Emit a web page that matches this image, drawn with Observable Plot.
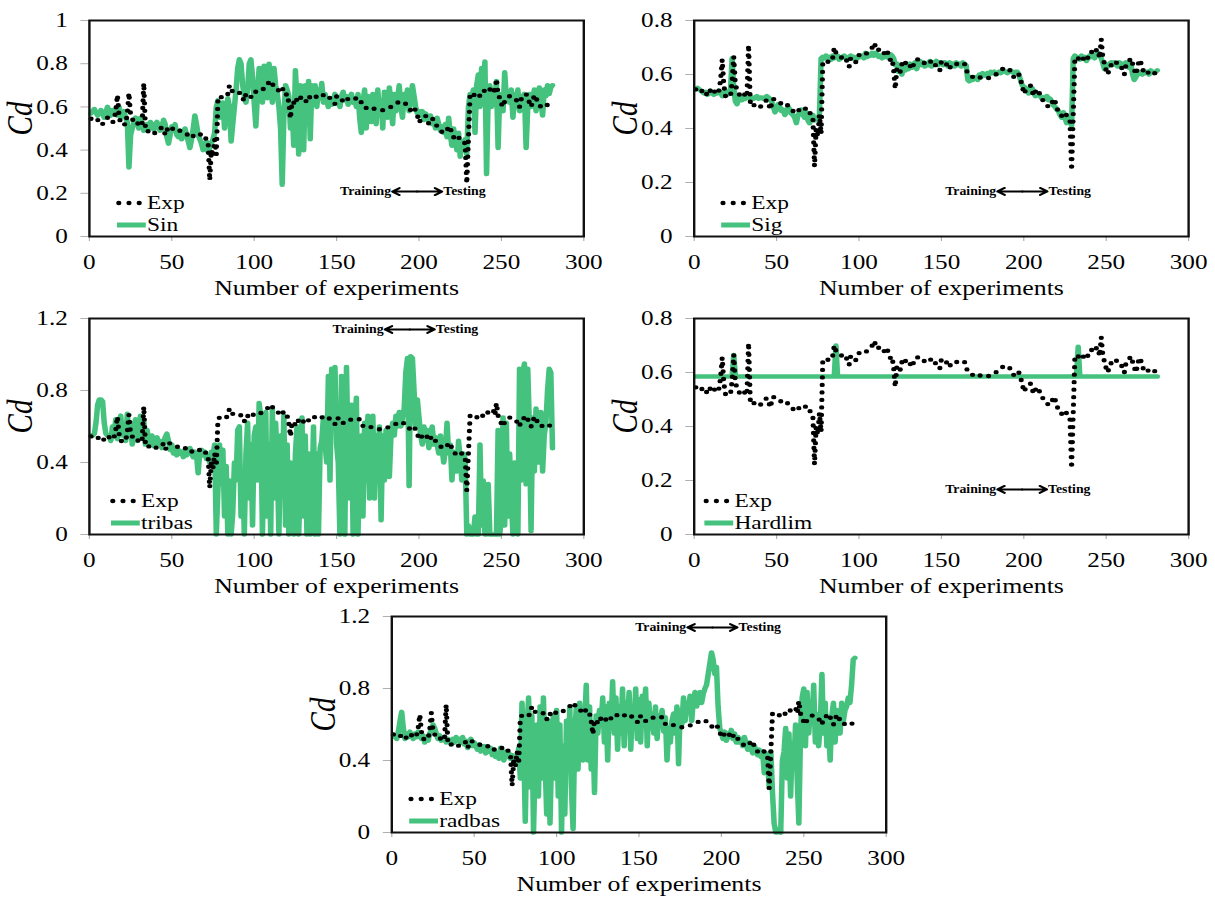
<!DOCTYPE html>
<html><head><meta charset="utf-8">
<script src="https://cdn.jsdelivr.net/npm/d3@7"></script>
<script src="https://cdn.jsdelivr.net/npm/@observablehq/plot@0.6"></script>
<style>
html,body{margin:0;padding:0;background:#fff;overflow:hidden;}
#wrap{position:relative;width:1012.5px;height:897px;transform:scaleX(1.2);transform-origin:0 0;}
.panel{position:absolute;width:500px;}
.panel svg{max-width:none;}
</style></head><body><div id="wrap"></div>
<script>
// ---- data (Cd per experiment 1..281) ----
const expCd = [
0.545,0.54,0.545,0.537,0.54,0.53,0.535,0.521,0.53,0.545,
0.55,0.54,0.53,0.527,0.54,0.58,0.655,0.56,0.52,0.518,
0.52,0.518,0.57,0.665,0.56,0.545,0.53,0.52,0.525,0.52,
0.53,0.52,0.71,0.50,0.484,0.49,0.478,0.48,0.478,0.48,
0.485,0.49,0.50,0.505,0.50,0.47,0.49,0.51,0.505,0.50,
0.497,0.497,0.49,0.485,0.49,0.488,0.485,0.48,0.476,0.465,
0.456,0.46,0.465,0.471,0.47,0.465,0.47,0.477,0.47,0.46,
0.45,0.443,0.26,0.40,0.37,0.45,0.38,0.64,0.65,0.645,
0.648,0.644,0.65,0.66,0.70,0.68,0.67,0.669,0.665,0.66,
0.665,0.662,0.64,0.628,0.662,0.66,0.65,0.646,0.66,0.672,
0.67,0.668,0.669,0.675,0.681,0.685,0.692,0.70,0.717,0.705,
0.709,0.69,0.686,0.681,0.675,0.692,0.688,0.67,0.654,0.66,
0.62,0.546,0.626,0.62,0.61,0.638,0.63,0.645,0.635,0.626,
0.632,0.62,0.635,0.65,0.657,0.655,0.65,0.645,0.64,0.645,
0.65,0.655,0.65,0.645,0.65,0.64,0.626,0.62,0.614,0.648,
0.645,0.648,0.64,0.62,0.625,0.63,0.638,0.636,0.64,0.636,
0.637,0.64,0.641,0.64,0.62,0.603,0.60,0.595,0.591,0.594,
0.597,0.595,0.59,0.588,0.585,0.585,0.586,0.585,0.588,0.59,
0.595,0.598,0.60,0.606,0.61,0.615,0.62,0.622,0.626,0.62,
0.618,0.614,0.60,0.59,0.585,0.59,0.60,0.58,0.562,0.528,
0.54,0.546,0.55,0.559,0.54,0.521,0.535,0.546,0.54,0.52,
0.511,0.50,0.49,0.484,0.482,0.48,0.49,0.511,0.50,0.48,
0.46,0.45,0.447,0.459,0.45,0.45,0.44,0.43,0.245,0.45,
0.66,0.665,0.66,0.65,0.65,0.66,0.65,0.65,0.665,0.68,
0.685,0.675,0.68,0.69,0.693,0.66,0.73,0.66,0.64,0.615,
0.60,0.625,0.635,0.645,0.65,0.645,0.64,0.638,0.635,0.61,
0.60,0.635,0.64,0.65,0.66,0.64,0.62,0.60,0.625,0.655,
0.645,0.62,0.61,0.60,0.605,0.61,0.605,0.61,0.605,0.605,
0.60];

const sinCd = [
0.57,0.58,0.59,0.575,0.56,0.57,0.585,0.57,0.55,0.575,
0.60,0.58,0.56,0.585,0.57,0.59,0.56,0.60,0.55,0.57,
0.58,0.55,0.53,0.32,0.47,0.50,0.53,0.55,0.53,0.50,
0.55,0.52,0.49,0.51,0.52,0.50,0.53,0.51,0.495,0.52,
0.53,0.50,0.49,0.51,0.54,0.52,0.46,0.43,0.47,0.51,
0.49,0.52,0.47,0.46,0.49,0.45,0.48,0.50,0.47,0.44,
0.41,0.45,0.50,0.56,0.52,0.47,0.45,0.43,0.40,0.42,
0.44,0.39,0.41,0.43,0.45,0.48,0.60,0.63,0.55,0.58,
0.62,0.50,0.56,0.64,0.60,0.44,0.52,0.60,0.68,0.78,
0.82,0.80,0.70,0.65,0.62,0.68,0.80,0.82,0.74,0.62,
0.51,0.66,0.78,0.70,0.62,0.79,0.68,0.64,0.80,0.72,
0.62,0.78,0.70,0.66,0.60,0.50,0.24,0.55,0.70,0.68,
0.65,0.50,0.60,0.42,0.77,0.62,0.38,0.70,0.65,0.40,
0.70,0.55,0.72,0.45,0.70,0.62,0.70,0.60,0.68,0.64,
0.71,0.62,0.66,0.63,0.60,0.64,0.61,0.63,0.66,0.62,
0.64,0.60,0.65,0.67,0.63,0.65,0.61,0.64,0.66,0.62,
0.64,0.60,0.66,0.55,0.48,0.62,0.68,0.50,0.65,0.58,
0.53,0.66,0.60,0.52,0.68,0.57,0.63,0.50,0.67,0.60,
0.55,0.69,0.62,0.52,0.66,0.58,0.64,0.70,0.60,0.55,
0.66,0.62,0.68,0.58,0.63,0.70,0.65,0.60,0.57,0.58,
0.56,0.58,0.54,0.57,0.55,0.53,0.56,0.52,0.54,0.50,
0.55,0.52,0.49,0.51,0.48,0.52,0.46,0.55,0.47,0.42,
0.50,0.45,0.40,0.48,0.37,0.44,0.41,0.45,0.38,0.60,
0.66,0.64,0.68,0.48,0.70,0.75,0.60,0.78,0.70,0.81,
0.29,0.65,0.70,0.60,0.68,0.62,0.72,0.41,0.66,0.63,
0.58,0.76,0.64,0.66,0.62,0.68,0.55,0.66,0.60,0.68,
0.58,0.65,0.62,0.66,0.41,0.60,0.66,0.60,0.64,0.68,
0.58,0.66,0.69,0.62,0.56,0.68,0.65,0.70,0.66,0.69,
0.70];

const sigCd = [
0.545,0.55,0.545,0.54,0.535,0.53,0.535,0.525,0.53,0.54,
0.53,0.525,0.535,0.53,0.54,0.535,0.52,0.53,0.54,0.525,
0.53,0.54,0.66,0.55,0.50,0.49,0.51,0.52,0.505,0.515,
0.51,0.52,0.515,0.51,0.515,0.51,0.515,0.52,0.51,0.515,
0.515,0.51,0.515,0.52,0.515,0.51,0.50,0.48,0.46,0.47,
0.49,0.48,0.465,0.47,0.45,0.46,0.48,0.47,0.455,0.45,
0.44,0.42,0.45,0.46,0.47,0.45,0.44,0.46,0.43,0.42,
0.44,0.45,0.43,0.435,0.44,0.45,0.66,0.665,0.66,0.67,
0.66,0.665,0.655,0.67,0.66,0.665,0.67,0.655,0.66,0.665,
0.67,0.66,0.655,0.665,0.67,0.66,0.665,0.655,0.66,0.67,
0.665,0.67,0.66,0.68,0.665,0.675,0.67,0.68,0.67,0.68,
0.675,0.665,0.67,0.66,0.675,0.665,0.67,0.66,0.675,0.67,
0.66,0.635,0.64,0.61,0.625,0.60,0.63,0.615,0.635,0.62,
0.64,0.625,0.63,0.645,0.62,0.64,0.65,0.635,0.645,0.63,
0.64,0.635,0.65,0.63,0.645,0.64,0.65,0.635,0.645,0.64,
0.635,0.645,0.64,0.63,0.645,0.635,0.64,0.63,0.645,0.635,
0.64,0.63,0.645,0.64,0.635,0.58,0.575,0.59,0.58,0.585,
0.59,0.58,0.60,0.59,0.605,0.60,0.595,0.605,0.60,0.61,
0.605,0.61,0.60,0.605,0.61,0.605,0.61,0.615,0.61,0.605,
0.61,0.615,0.61,0.605,0.61,0.61,0.60,0.58,0.56,0.555,
0.55,0.545,0.53,0.54,0.55,0.535,0.52,0.53,0.525,0.52,
0.51,0.515,0.51,0.52,0.505,0.51,0.50,0.485,0.48,0.47,
0.465,0.45,0.44,0.46,0.44,0.42,0.44,0.43,0.41,0.66,
0.67,0.665,0.66,0.655,0.67,0.66,0.665,0.65,0.66,0.67,
0.665,0.67,0.66,0.675,0.68,0.67,0.66,0.64,0.62,0.635,
0.63,0.64,0.645,0.635,0.645,0.64,0.63,0.645,0.64,0.63,
0.64,0.645,0.63,0.625,0.64,0.60,0.58,0.59,0.60,0.61,
0.605,0.60,0.61,0.605,0.61,0.60,0.615,0.61,0.605,0.61,
0.615];

const tribasCd = [
0.55,0.55,0.56,0.62,0.72,0.75,0.75,0.74,0.62,0.56,
0.55,0.55,0.52,0.60,0.55,0.64,0.53,0.62,0.66,0.55,
0.60,0.52,0.67,0.55,0.62,0.50,0.58,0.64,0.52,0.60,
0.66,0.54,0.63,0.50,0.58,0.53,0.50,0.55,0.49,0.52,
0.54,0.50,0.52,0.48,0.51,0.54,0.56,0.52,0.47,0.50,
0.45,0.48,0.44,0.47,0.45,0.46,0.43,0.47,0.44,0.46,
0.48,0.45,0.43,0.46,0.44,0.34,0.46,0.47,0.44,0.46,
0.42,0.44,0.40,0.46,0.44,0.50,0.00,0.25,0.50,0.28,
0.47,0.10,0.38,0.00,0.30,0.00,0.12,0.40,0.30,0.58,
0.60,0.10,0.35,0.00,0.45,0.62,0.20,0.50,0.05,0.55,
0.60,0.30,0.73,0.65,0.00,0.45,0.68,0.10,0.50,0.00,
0.70,0.20,0.62,0.40,0.00,0.55,0.30,0.66,0.05,0.50,
0.00,0.40,0.20,0.00,0.45,0.60,0.00,0.30,0.65,0.10,
0.55,0.00,0.45,0.00,0.20,0.60,0.00,0.45,0.00,0.48,
0.52,0.65,0.50,0.40,0.88,0.30,0.92,0.65,0.93,0.50,
0.40,0.00,0.88,0.60,0.00,0.93,0.45,0.20,0.72,0.00,
0.60,0.76,0.00,0.50,0.55,0.10,0.62,0.30,0.66,0.20,
0.45,0.66,0.20,0.55,0.40,0.60,0.08,0.55,0.30,0.58,
0.50,0.32,0.55,0.62,0.55,0.66,0.60,0.68,0.60,0.65,
0.70,0.90,0.98,0.27,0.99,0.98,0.80,0.60,0.75,0.65,
0.55,0.50,0.60,0.52,0.58,0.48,0.55,0.60,0.50,0.54,
0.50,0.45,0.55,0.48,0.40,0.47,0.62,0.45,0.50,0.30,
0.46,0.44,0.35,0.52,0.42,0.30,0.45,0.42,0.00,0.05,
0.00,0.00,0.00,0.10,0.00,0.00,0.50,0.05,0.30,0.00,
0.00,0.28,0.00,0.00,0.00,0.00,0.00,0.58,0.00,0.10,
0.65,0.05,0.62,0.10,0.45,0.20,0.00,0.40,0.05,0.00,
0.92,0.30,0.90,0.95,0.28,0.92,0.60,0.02,0.65,0.35,
0.70,0.40,0.60,0.68,0.35,0.55,0.62,0.80,0.92,0.90,
0.48];

const radbasCd = [
0.54,0.53,0.52,0.56,0.62,0.67,0.58,0.52,0.55,0.53,
0.56,0.54,0.52,0.55,0.53,0.56,0.55,0.52,0.54,0.50,
0.53,0.51,0.55,0.57,0.60,0.58,0.55,0.52,0.54,0.51,
0.52,0.53,0.50,0.52,0.51,0.49,0.52,0.50,0.53,0.51,
0.52,0.50,0.53,0.49,0.51,0.47,0.50,0.52,0.48,0.50,
0.48,0.46,0.49,0.45,0.47,0.48,0.44,0.46,0.45,0.47,
0.43,0.46,0.42,0.44,0.41,0.47,0.43,0.40,0.45,0.42,
0.44,0.41,0.43,0.40,0.42,0.38,0.47,0.30,0.72,0.50,
0.06,0.55,0.75,0.25,0.65,0.00,0.40,0.60,0.20,0.70,
0.30,0.75,0.40,0.10,0.62,0.05,0.45,0.65,0.30,0.68,
0.20,0.60,0.00,0.48,0.10,0.62,0.35,0.70,0.25,0.02,
0.55,0.70,0.35,0.72,0.45,0.40,0.60,0.82,0.40,0.70,
0.35,0.58,0.22,0.65,0.55,0.68,0.60,0.75,0.50,0.70,
0.40,0.72,0.58,0.84,0.55,0.75,0.46,0.70,0.55,0.80,
0.48,0.72,0.62,0.78,0.46,0.70,0.60,0.80,0.52,0.74,
0.50,0.76,0.60,0.80,0.48,0.72,0.58,0.66,0.55,0.70,
0.52,0.65,0.60,0.68,0.56,0.64,0.40,0.58,0.50,0.62,
0.66,0.55,0.70,0.38,0.68,0.60,0.75,0.62,0.72,0.68,
0.76,0.62,0.74,0.78,0.70,0.76,0.78,0.72,0.77,0.80,
0.82,0.88,0.94,1.00,0.96,0.88,0.92,0.70,0.58,0.55,
0.52,0.56,0.51,0.55,0.53,0.57,0.52,0.55,0.50,0.53,
0.50,0.52,0.48,0.53,0.49,0.46,0.50,0.47,0.44,0.48,
0.46,0.43,0.46,0.42,0.45,0.33,0.44,0.40,0.25,0.45,
0.22,0.05,0.00,0.00,0.02,0.00,0.40,0.45,0.58,0.30,
0.55,0.20,0.50,0.38,0.60,0.30,0.05,0.55,0.75,0.80,
0.48,0.78,0.55,0.70,0.62,0.82,0.50,0.66,0.48,0.60,
0.88,0.55,0.72,0.48,0.58,0.40,0.65,0.72,0.50,0.68,
0.60,0.55,0.72,0.62,0.68,0.70,0.75,0.72,0.82,0.96,
0.97];

// Hardlim: constant output with three single-experiment spikes
const hardlimN  = [1, 23, 24, 25, 85, 86, 87, 232, 233, 234, 281];
const hardlimCd = [0.585, 0.585, 0.665, 0.585, 0.585, 0.70, 0.585, 0.585, 0.695, 0.585, 0.585];

const xTicks = [0, 50, 100, 150, 200, 250, 300];
const yTicksA = [0, 0.2, 0.4, 0.6, 0.8, 1];
const yTicksB = [0, 0.2, 0.4, 0.6, 0.8];
const yTicksC = [0, 0.4, 0.8, 1.2];

const experiments = d3.range(1, expCd.length + 1);

// ---- drawing ----
const GREEN = "#45c27e";
const FONT = "'Liberation Serif','Times New Roman',Times,serif";
const expRows = experiments.map((n, i) => ({n, cd: expCd[i]}));
const rowsOf = (arr) => arr.map((cd, i) => ({n: i + 1, cd}));

function panel(cfg) {
  const H = cfg.height;
  const mB = H - 20 - 216;
  const model = cfg.model;
  const plot = Plot.plot({
    width: 500, height: H,
    marginLeft: 74, marginRight: 14, marginTop: 20, marginBottom: mB,
    x: {domain: [0, 300]},
    y: {domain: [0, cfg.yMax]},
    style: {fontFamily: FONT, fontSize: "21px", background: "transparent", color: "black", overflow: "visible"},
    marks: [
      Plot.axisX({ticks: xTicks, tickSize: 5, tickPadding: 13, stroke: "#b0b0b0", label: null, tickFormat: d => String(d)}),
      Plot.axisY({ticks: cfg.yTicks, tickSize: 7, tickPadding: 11, stroke: "#b0b0b0", label: null, tickFormat: d => String(d)}),
      Plot.line(model, {x: "n", y: "cd", stroke: GREEN, strokeWidth: 4.6, strokeLinejoin: "round", strokeLinecap: "round"}),
      Plot.line(expRows, {x: "n", y: "cd", stroke: "black", strokeWidth: 4.4, strokeDasharray: "0,7.5", strokeLinecap: "round", strokeLinejoin: "round"}),
      Plot.frame({stroke: "#111", strokeWidth: 2}),
      Plot.text(["Cd"], {text: d => d, frameAnchor: "left", textAnchor: "middle", lineAnchor: "middle", dx: -57, dy: -10, rotate: -90, fontStyle: "italic", fontSize: 29}),
      Plot.text(["Number of experiments"], {text: d => d, frameAnchor: "bottom", textAnchor: "middle", lineAnchor: "middle", dy: 52, fontSize: 21.5}),
      Plot.arrow([0], {x1: (cfg.ax0 + cfg.ax1) / 2, x2: cfg.ax0, y1: cfg.ay, y2: cfg.ay, stroke: "black", strokeWidth: 2, headLength: 7}),
      Plot.arrow([0], {x1: (cfg.ax0 + cfg.ax1) / 2, x2: cfg.ax1, y1: cfg.ay, y2: cfg.ay, stroke: "black", strokeWidth: 2, headLength: 7}),
      Plot.text(["Training"], {text: d => d, x: cfg.ax0, y: cfg.ay, dx: -1, textAnchor: "end", fontWeight: "bold", fontSize: 11.5}),
      Plot.text(["Testing"], {text: d => d, x: cfg.ax1, y: cfg.ay, dx: 1, textAnchor: "start", fontWeight: "bold", fontSize: 11.5})
    ]
  });
  // legend
  const svg = d3.select(plot);
  const fl = 74, fb = 20 + 216;
  const lx = fl + cfg.legX;
  const yExp = fb - 33, yMod = fb - 11;
  const g = svg.append("g").attr("text-anchor", "start");
  g.append("line").attr("x1", lx + 1.5).attr("x2", lx + 19).attr("y1", yExp).attr("y2", yExp)
    .attr("stroke", "black").attr("stroke-width", 4.4).attr("stroke-dasharray", "0,8.5").attr("stroke-linecap", "round");
  g.append("line").attr("x1", lx).attr("x2", lx + 24).attr("y1", yMod).attr("y2", yMod)
    .attr("stroke", GREEN).attr("stroke-width", 5);
  g.append("text").attr("x", lx + 25).attr("y", yExp).attr("dy", "0.33em").attr("font-size", 19.5).attr("text-anchor", "start").text("Exp");
  g.append("text").attr("x", lx + 25).attr("y", yMod).attr("dy", "0.33em").attr("font-size", 19.5).attr("text-anchor", "start").text(cfg.name);

  const div = document.createElement("div");
  div.className = "panel";
  div.style.left = cfg.left + "px";
  div.style.top = cfg.top + "px";
  div.appendChild(plot);
  document.getElementById("wrap").appendChild(div);
}

panel({name: "Sin", model: rowsOf(sinCd), yMax: 1, yTicks: yTicksA, left: 0, top: 0, height: 300,
       ax0: 183.8, ax1: 214, ay: 0.208, legX: 23.5});
panel({name: "Sig", model: rowsOf(sigCd), yMax: 0.8, yTicks: yTicksB, left: 504.3, top: 0, height: 300,
       ax0: 184, ax1: 214.3, ay: 0.167, legX: 23});
panel({name: "tribas", model: rowsOf(tribasCd), yMax: 1.2, yTicks: yTicksC, left: 0, top: 298, height: 300,
       ax0: 179.3, ax1: 209.5, ay: 1.139, legX: 18.5});
panel({name: "Hardlim", model: hardlimN.map((n, i) => ({n, cd: hardlimCd[i]})), yMax: 0.8, yTicks: yTicksB, left: 504.3, top: 298, height: 300,
       ax0: 184, ax1: 214, ay: 0.167, legX: 9});
panel({name: "radbas", model: rowsOf(radbasCd), yMax: 1.2, yTicks: yTicksC, left: 251.8, top: 596, height: 301,
       ax0: 179.4, ax1: 209.7, ay: 1.139, legX: 15});
</script></body></html>
